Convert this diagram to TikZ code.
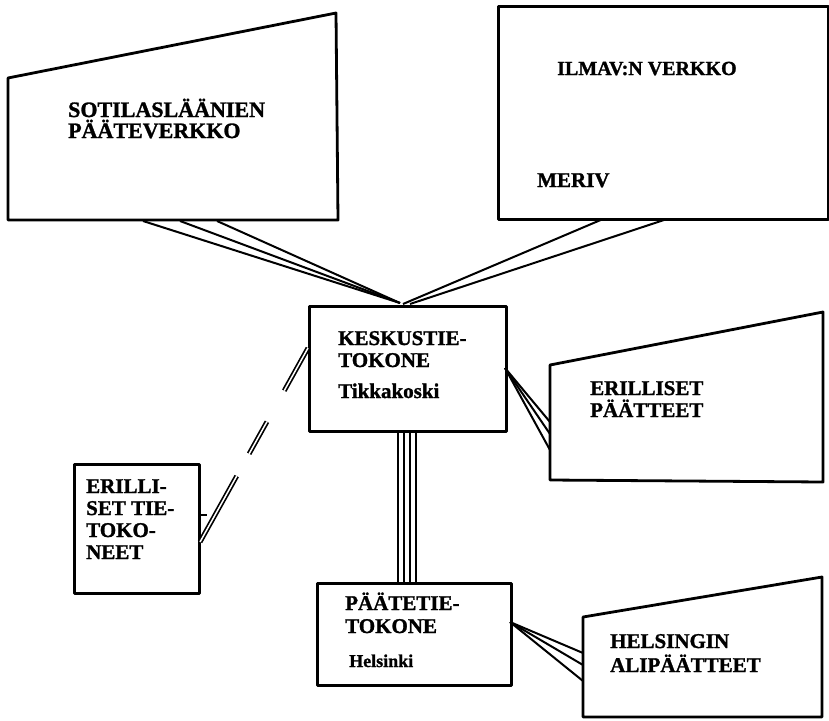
\documentclass[tikz,border=0pt]{standalone}
\usepackage{fontspec}
\setmainfont{Liberation Serif}[BoldFeatures={FakeBold=1.3}]
\usetikzlibrary{calc}
\tikzset{
  boxline/.style={line width=2.8pt, line join=round},
  rectbox/.style={boxline, draw, rectangle, inner sep=0pt, anchor=north west},
  wire/.style={line width=2pt},
  dwire/.style={line width=1.7pt, double=white, double distance=1.5pt},
  lab/.style={anchor=base west, inner sep=0pt, font=\bfseries\fontsize{21}{22}\selectfont},
  labbig/.style={lab, font=\bfseries\fontsize{22}{22}\selectfont},
  labmid/.style={lab, font=\bfseries\fontsize{20}{22}\selectfont},
  labsmall/.style={lab, font=\bfseries\fontsize{18}{20}\selectfont},
}
\begin{document}
\begin{tikzpicture}[x=1pt, y=-1pt]
\useasboundingbox (0,0) rectangle (829,720);

% ---------- SOTILASLAANIEN PAATEVERKKO (trapezoid) ----------
\coordinate (sotTL) at (8,78);
\coordinate (sotTR) at (336,13);
\coordinate (sotBR) at (338,220);
\coordinate (sotBL) at (8,220);
\draw[boxline] (sotTL) -- (sotTR) -- (sotBR) -- (sotBL) -- cycle;
\node[labbig] (sotA) at (68,117) {SOTILASLÄÄNIEN};
\node[labbig] (sotB) at (68,138) {PÄÄTEVERKKO};
\coordinate (s1) at (143,221);
\coordinate (s2) at (180,221);
\coordinate (s3) at (217,221);

% ---------- ILMAV:N VERKKO ----------
\node[rectbox, minimum width=330pt, minimum height=213pt] (ilm) at (497,5) {};
\node[labmid] (ilmA) at (557,75) {ILMAV:N VERKKO};
\node[lab] (ilmB) at (537,187) {MERIV};
\coordinate (i1) at (603,219);
\coordinate (i2) at (667,219);

% ---------- KESKUSTIETOKONE ----------
\node[rectbox, minimum width=197pt, minimum height=125pt] (kes) at (308,305) {};
\node[lab] (kesA) at (338,345) {KESKUSTIE-};
\node[lab] (kesB) at (338,367) {TOKONE};
\node[lab] (kesC) at (338,398) {Tikkakoski};
\coordinate (hub1) at (400,303);
\coordinate (hub2) at (403,304);
\coordinate (hub3) at (410,304);

% ---------- ERILLISET PAATTEET (trapezoid) ----------
\coordinate (epTL) at (550,365);
\coordinate (epTR) at (823,312);
\coordinate (epBR) at (823,482);
\coordinate (epBL) at (550,480);
\draw[boxline] (epTL) -- (epTR) -- (epBR) -- (epBL) -- cycle;
\node[lab] (epA) at (590,395) {ERILLISET};
\node[lab] (epB) at (590,417) {PÄÄTTEET};

% ---------- ERILLISET TIETOKONEET ----------
\node[rectbox, minimum width=125pt, minimum height=129pt] (et) at (73,463) {};
\node[lab] (etA) at (86,493) {ERILLI-};
\node[lab] (etB) at (86,515) {SET TIE-};
\node[lab] (etC) at (86,537) {TOKO-};
\node[lab] (etD) at (86,559) {NEET};

% ---------- PAATETIETOKONE ----------
\node[rectbox, minimum width=194pt, minimum height=102pt] (pt) at (316,582) {};
\node[lab] (ptA) at (345,610) {PÄÄTETIE-};
\node[lab] (ptB) at (345,633) {TOKONE};
\node[labsmall] (ptC) at (349,667) {Helsinki};

% ---------- HELSINGIN ALIPAATTEET (trapezoid) ----------
\coordinate (hTL) at (583,617);
\coordinate (hTR) at (822,577);
\coordinate (hBR) at (822,717);
\coordinate (hBL) at (583,717);
\draw[boxline] (hTL) -- (hTR) -- (hBR) -- (hBL) -- cycle;
\node[lab] (hA) at (610,648) {HELSINGIN};
\node[lab] (hB) at (610,672) {ALIPÄÄTTEET};

% ---------- connectors ----------
% sotilas -> keskus
\draw[wire] (s1) -- (hub1);
\draw[wire] (s2) -- (hub1);
\draw[wire] (s3) -- (hub1);
% ilmav -> keskus
\draw[wire] (i1) -- (hub2);
\draw[wire] (i2) -- (hub3);
% keskus -> erilliset paatteet
\coordinate (kr) at (505,368);
\draw[wire] (kr) -- (550,422);
\draw[wire] (kr) -- (550,434);
\draw[wire] (kr) -- (550,450);
% keskus -> paatetie (four parallel lines)
\foreach \xx in {398,404,410,416}{
  \draw[wire] (\xx,430) -- (\xx,582);
}
% paatetie -> helsingin
\coordinate (pr) at (510,622);
\draw[wire] (pr) -- (583,653);
\draw[wire] (pr) -- (583,665);
\draw[wire] (pr) -- (583,681);
% erilliset tietokoneet -> keskus (broken double line)
\coordinate (dA) at (200,542);
\coordinate (dB) at (308,348);
\draw[dwire] (dA) -- ($(dA)!0.34!(dB)$);
\draw[dwire] ($(dA)!0.455!(dB)$) -- ($(dA)!0.62!(dB)$);
\draw[dwire] ($(dA)!0.78!(dB)$) -- (dB);
\draw[wire] (198,515) -- (207,515);
\end{tikzpicture}
\end{document}
